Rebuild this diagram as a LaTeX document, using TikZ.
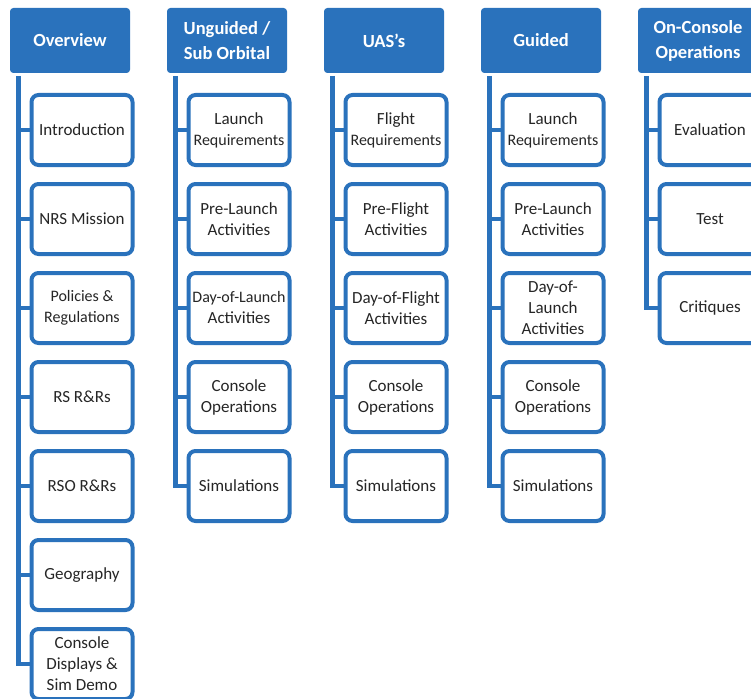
\documentclass[tikz,border=0pt]{standalone}
\usepackage{fontspec}
\setmainfont{Carlito}
\usepackage{xcolor}
\usepackage{tikz}
\usetikzlibrary{positioning, calc}

\definecolor{chartblue}{RGB}{42,114,188}
\newcommand{\smtext}{\fontsize{16}{20}\selectfont}

\begin{document}
\begin{tikzpicture}[
        x=1pt, y=1pt,
        node distance=15pt and 37pt,
        header/.style={rectangle, draw=chartblue, fill=chartblue, rounded corners=3pt, line width=1pt,
                       minimum width=119pt, minimum height=64pt, text=white, align=center,
                       font=\fontsize{18.5}{25}\selectfont\bfseries},
        leaf/.style={rectangle, draw=chartblue, fill=white, rounded corners=7pt, line width=4pt,
                     minimum width=101pt, minimum height=70pt, inner sep=1pt, align=center,
                     text=black!85, font=\fontsize{17}{21}\selectfont},
        link/.style={draw=chartblue, line width=4.5pt}
      ]

      \useasboundingbox (0,0) rectangle (751,-698);
      \clip (0,0) rectangle (751,-698);

      % Column headers
      \node (ov) [header] at (70,-40.5) {Overview};
      \node (ung) [header, right=of ov] {Unguided /\\Sub Orbital};
      \node (uas) [header, right=of ung] {UAS’s};
      \node (gui) [header, right=of uas] {Guided};
      \node (onc) [header, right=of gui] {On-Console\\Operations};

      % Overview
      \node (ov1) [leaf, below=20pt of ov, xshift=12pt] {Introduction};
      \node (ov2) [leaf, below=of ov1] {NRS Mission};
      \node (ov3) [leaf, below=of ov2] {\smtext Policies \&\\\smtext Regulations};
      \node (ov4) [leaf, below=of ov3] {RS R\&Rs};
      \node (ov5) [leaf, below=of ov4] {RSO R\&Rs};
      \node (ov6) [leaf, below=of ov5] {Geography};
      \node (ov7) [leaf, below=of ov6] {Console\\Displays \&\\Sim Demo};

      % Unguided / Sub Orbital
      \node (ung1) [leaf, below=20pt of ung, xshift=12pt] {Launch\\\smtext Requirements};
      \node (ung2) [leaf, below=of ung1] {Pre-Launch\\Activities};
      \node (ung3) [leaf, below=of ung2] {\smtext Day-of-Launch\\Activities};
      \node (ung4) [leaf, below=of ung3] {Console\\Operations};
      \node (ung5) [leaf, below=of ung4] {Simulations};

      % UAS's
      \node (uas1) [leaf, below=20pt of uas, xshift=12pt] {Flight\\\smtext Requirements};
      \node (uas2) [leaf, below=of uas1] {Pre-Flight\\Activities};
      \node (uas3) [leaf, below=of uas2] {Day-of-Flight\\Activities};
      \node (uas4) [leaf, below=of uas3] {Console\\Operations};
      \node (uas5) [leaf, below=of uas4] {Simulations};

      % Guided
      \node (gui1) [leaf, below=20pt of gui, xshift=12pt] {Launch\\\smtext Requirements};
      \node (gui2) [leaf, below=of gui1] {Pre-Launch\\Activities};
      \node (gui3) [leaf, below=of gui2] {Day-of-\\Launch\\Activities};
      \node (gui4) [leaf, below=of gui3] {Console\\Operations};
      \node (gui5) [leaf, below=of gui4] {Simulations};

      % On-Console Operations
      \node (onc1) [leaf, below=20pt of onc, xshift=12pt] {Evaluation};
      \node (onc2) [leaf, below=of onc1] {Test};
      \node (onc3) [leaf, below=of onc2] {Critiques};

      % Trunk tops
      \coordinate (ovt) at ([xshift=-11pt, yshift=-3pt]ov1.west |- ov.south);
      \coordinate (ungt) at ([xshift=-11pt, yshift=-3pt]ung1.west |- ung.south);
      \coordinate (uast) at ([xshift=-11pt, yshift=-3pt]uas1.west |- uas.south);
      \coordinate (guit) at ([xshift=-11pt, yshift=-3pt]gui1.west |- gui.south);
      \coordinate (onct) at ([xshift=-11pt, yshift=-3pt]onc1.west |- onc.south);

      % Trunks and branches
      \draw [link] (ovt) |- (ov7.west);
      \draw [link] (ovt |- ov1.west) -- (ov1.west);
      \draw [link] (ovt |- ov2.west) -- (ov2.west);
      \draw [link] (ovt |- ov3.west) -- (ov3.west);
      \draw [link] (ovt |- ov4.west) -- (ov4.west);
      \draw [link] (ovt |- ov5.west) -- (ov5.west);
      \draw [link] (ovt |- ov6.west) -- (ov6.west);

      \draw [link] (ungt) |- (ung5.west);
      \draw [link] (ungt |- ung1.west) -- (ung1.west);
      \draw [link] (ungt |- ung2.west) -- (ung2.west);
      \draw [link] (ungt |- ung3.west) -- (ung3.west);
      \draw [link] (ungt |- ung4.west) -- (ung4.west);

      \draw [link] (uast) |- (uas5.west);
      \draw [link] (uast |- uas1.west) -- (uas1.west);
      \draw [link] (uast |- uas2.west) -- (uas2.west);
      \draw [link] (uast |- uas3.west) -- (uas3.west);
      \draw [link] (uast |- uas4.west) -- (uas4.west);

      \draw [link] (guit) |- (gui5.west);
      \draw [link] (guit |- gui1.west) -- (gui1.west);
      \draw [link] (guit |- gui2.west) -- (gui2.west);
      \draw [link] (guit |- gui3.west) -- (gui3.west);
      \draw [link] (guit |- gui4.west) -- (gui4.west);

      \draw [link] (onct) |- (onc3.west);
      \draw [link] (onct |- onc1.west) -- (onc1.west);
      \draw [link] (onct |- onc2.west) -- (onc2.west);

    \end{tikzpicture}
\end{document}
